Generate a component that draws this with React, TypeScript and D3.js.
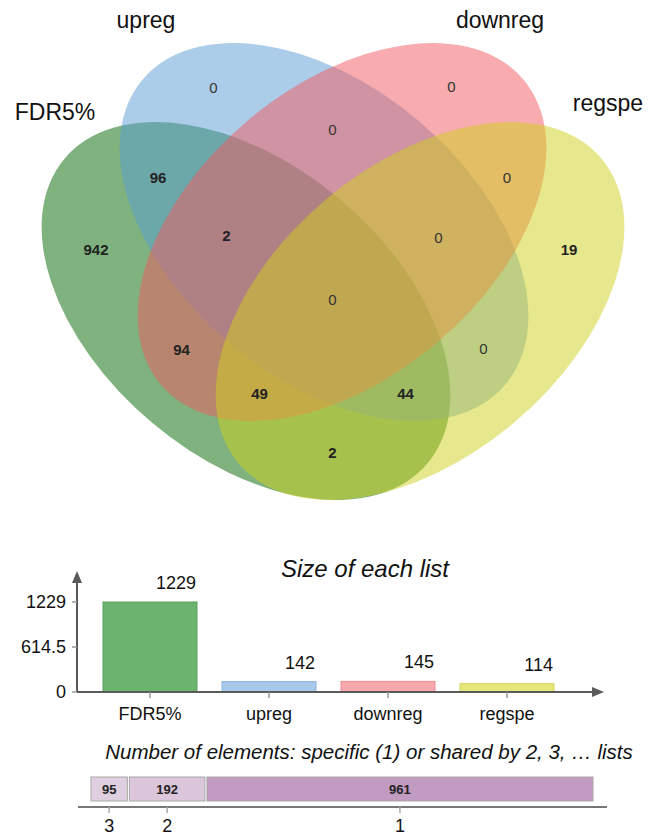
import React, { useMemo } from 'react';
import * as d3 from 'd3';

// ---------- data ----------
const setNames = ['FDR5%', 'upreg', 'downreg', 'regspe'];
const setColors = ['#006600', '#5a9bd4', '#f15a60', '#cfcf1b'];
const barColors = ['#6bb36e', '#a9c8ea', '#f7a8ad', '#e6e67a'];
const barStrokes = ['#5aa25d', '#8fb4de', '#ec8f96', '#d4d45e'];
// region membership (FDR5%, upreg, downreg, regspe) and counts
const regionKeys = ['1000', '0100', '0010', '0001', '1100', '0110', '0011', '1010', '0101', '1001', '1110', '0111', '1011', '1101', '1111'];
const regionCounts = [942, 0, 0, 19, 96, 0, 0, 94, 0, 2, 2, 0, 49, 44, 0];
const listSizes = [1229, 142, 145, 114];
const sizeTicks = [0, 614.5, 1229];
const sharedDegrees = [3, 2, 1];
const sharedCounts = [95, 192, 961];

// ---------- layout ----------
const W = 657;
const H = 836;
const FONT = "'Liberation Sans', Arial, sans-serif";
const ELL_A = 237;
const ELL_B = 146;
const ellipses = [
  { cx: 246, cy: 311, rot: 40 },
  { cx: 324, cy: 232, rot: 40 },
  { cx: 342, cy: 232, rot: -40 },
  { cx: 420, cy: 311, rot: -40 },
];

function inside(e: { cx: number; cy: number; rot: number }, x: number, y: number) {
  const t = (e.rot * Math.PI) / 180;
  const dx = x - e.cx;
  const dy = y - e.cy;
  const u = dx * Math.cos(t) + dy * Math.sin(t);
  const v = -dx * Math.sin(t) + dy * Math.cos(t);
  return (u * u) / (ELL_A * ELL_A) + (v * v) / (ELL_B * ELL_B) <= 1;
}

function computeLabelPositions() {
  const nx = W;
  const ny = 540;
  const code = new Int32Array(nx * ny);
  for (let j = 0; j < ny; j++) {
    for (let i = 0; i < nx; i++) {
      let c = 0;
      ellipses.forEach((e, k) => {
        if (inside(e, i + 0.5, j + 0.5)) c |= 1 << (3 - k);
      });
      code[j * nx + i] = c;
    }
  }
  const dist = new Float64Array(nx * ny);
  for (let j = 0; j < ny; j++) {
    for (let i = 0; i < nx; i++) {
      const idx = j * nx + i;
      const c = code[idx];
      let b = i === 0 || j === 0 || i === nx - 1 || j === ny - 1;
      if (!b) b = code[idx - 1] !== c || code[idx + 1] !== c || code[idx - nx] !== c || code[idx + nx] !== c;
      dist[idx] = b ? 0 : 1e9;
    }
  }
  const r2 = Math.SQRT2;
  for (let j = 1; j < ny - 1; j++) {
    for (let i = 1; i < nx - 1; i++) {
      const idx = j * nx + i;
      dist[idx] = Math.min(dist[idx], dist[idx - 1] + 1, dist[idx - nx] + 1, dist[idx - nx - 1] + r2, dist[idx - nx + 1] + r2);
    }
  }
  for (let j = ny - 2; j > 0; j--) {
    for (let i = nx - 2; i > 0; i--) {
      const idx = j * nx + i;
      dist[idx] = Math.min(dist[idx], dist[idx + 1] + 1, dist[idx + nx] + 1, dist[idx + nx + 1] + r2, dist[idx + nx - 1] + r2);
    }
  }
  const best: Record<number, { d: number; x: number; y: number }> = {};
  const sums: Record<number, { n: number; sx: number; sy: number }> = {};
  for (let j = 0; j < ny; j++) {
    for (let i = 0; i < nx; i++) {
      const idx = j * nx + i;
      const c = code[idx];
      if (!c) continue;
      if (!best[c] || dist[idx] > best[c].d) best[c] = { d: dist[idx], x: i, y: j };
      if (!sums[c]) sums[c] = { n: 0, sx: 0, sy: 0 };
      sums[c].n++;
      sums[c].sx += i;
      sums[c].sy += j;
    }
  }
  const at = (x: number, y: number) => code[Math.round(y) * nx + Math.round(x)];
  const dAt = (x: number, y: number) => dist[Math.round(y) * nx + Math.round(x)];
  const vMid = (x: number, y: number, c: number) => {
    let t = Math.round(y), b = Math.round(y);
    while (t > 0 && at(x, t - 1) === c) t--;
    while (b < ny - 1 && at(x, b + 1) === c) b++;
    return (t + b) / 2;
  };
  const hMid = (x: number, y: number, c: number) => {
    let l = Math.round(x), r = Math.round(x);
    while (l > 0 && at(l - 1, y) === c) l--;
    while (r < nx - 1 && at(r + 1, y) === c) r++;
    return (l + r) / 2;
  };
  return regionKeys.map((k) => {
    const c = parseInt(k, 2);
    const p = best[c];
    const s = sums[c];
    let x = s.sx / s.n;
    let y = s.sy / s.n;
    if (at(x, y) !== c || dAt(x, y) < 0.7 * p.d) {
      x = p.x;
      y = p.y;
    }
    y = vMid(x, y, c);
    x = hMid(x, y, c);
    y = vMid(x, y, c);
    return { x, y };
  });
}

export default function App() {
  const labelPos = useMemo(() => computeLabelPositions(), []);

  // size-of-each-list chart
  const xBand = d3.scaleBand<string>().domain(setNames).range([103, 554]).paddingInner(0.21).paddingOuter(0);
  const ySize = d3.scaleLinear().domain([0, 1229]).range([692, 602]);
  const axisX0 = 77;
  const axisY0 = 692;

  // shared chart
  const total = d3.sum(sharedCounts);
  const xShared = d3.scaleLinear().domain([0, total]).range([90, 594]);
  const cum = sharedCounts.map((_, i) => d3.sum(sharedCounts.slice(0, i)));
  const sharedFill = (deg: number) => (deg === 1 ? '#c19bc1' : deg === 2 ? '#dbc6db' : '#e0cfe0');

  return (
    <svg width={W} height={H} style={{ position: 'absolute', left: 0, top: 0, display: 'block', background: '#fff' }} fontFamily={FONT}>
      {/* Venn ellipses */}
      {ellipses.map((e, i) => (
        <ellipse
          key={i}
          cx={e.cx}
          cy={e.cy}
          rx={ELL_A}
          ry={ELL_B}
          transform={`rotate(${e.rot} ${e.cx} ${e.cy})`}
          fill={setColors[i]}
          fillOpacity={0.5}
        />
      ))}
      {/* set names */}
      <text x={55} y={120} fontSize={23} textAnchor="middle" fill="#111">{setNames[0]}</text>
      <text x={146} y={28} fontSize={23} textAnchor="middle" fill="#111">{setNames[1]}</text>
      <text x={500} y={28} fontSize={23} textAnchor="middle" fill="#111">{setNames[2]}</text>
      <text x={608} y={111} fontSize={23} textAnchor="middle" fill="#111">{setNames[3]}</text>
      {/* region counts */}
      {regionKeys.map((k, i) => (
        <text
          key={k}
          x={labelPos[i].x}
          y={labelPos[i].y}
          fontSize={15}
          fontWeight={regionCounts[i] === 0 ? 'normal' : 'bold'}
          textAnchor="middle"
          dominantBaseline="central"
          fill={regionCounts[i] === 0 ? '#333' : '#222'}
        >
          {regionCounts[i]}
        </text>
      ))}

      {/* Size of each list */}
      <text x={365} y={577} fontSize={24} fontStyle="italic" textAnchor="middle" fill="#111">Size of each list</text>
      {setNames.map((n, i) => (
        <rect
          key={n}
          x={xBand(n)!}
          y={ySize(listSizes[i])}
          width={xBand.bandwidth()}
          height={axisY0 - ySize(listSizes[i])}
          fill={barColors[i]}
          stroke={barStrokes[i]}
          strokeWidth={1}
        />
      ))}
      {setNames.map((n, i) => (
        <text key={n} x={xBand(n)! + xBand.bandwidth() - 1} y={ySize(listSizes[i]) - 13} fontSize={18} textAnchor="end" fill="#111">
          {listSizes[i]}
        </text>
      ))}
      {/* y axis */}
      <line x1={axisX0} x2={axisX0} y1={axisY0} y2={580} stroke="#5a5a5a" strokeWidth={2} />
      <path d={`M${axisX0},571 L${axisX0 - 5},583 L${axisX0 + 5},583 Z`} fill="#5a5a5a" />
      {sizeTicks.map((t) => (
        <g key={t}>
          <line x1={axisX0 - 5} x2={axisX0} y1={ySize(t)} y2={ySize(t)} stroke="#999" strokeWidth={1.5} />
          <text x={66} y={ySize(t)} fontSize={18} textAnchor="end" dominantBaseline="central" fill="#111">
            {t}
          </text>
        </g>
      ))}
      {/* x axis */}
      <line x1={axisX0} x2={594} y1={axisY0} y2={axisY0} stroke="#5a5a5a" strokeWidth={2} />
      <path d={`M604,${axisY0} L592,${axisY0 - 5} L592,${axisY0 + 5} Z`} fill="#5a5a5a" />
      {setNames.map((n) => (
        <g key={n}>
          <line x1={xBand(n)! + xBand.bandwidth() / 2} x2={xBand(n)! + xBand.bandwidth() / 2} y1={axisY0} y2={axisY0 + 6} stroke="#999" strokeWidth={1.5} />
          <text x={xBand(n)! + xBand.bandwidth() / 2} y={720} fontSize={18} textAnchor="middle" fill="#111">
            {n}
          </text>
        </g>
      ))}

      {/* shared elements */}
      <text x={369} y={759} fontSize={20.5} fontStyle="italic" textAnchor="middle" fill="#111">
        Number of elements: specific (1) or shared by 2, 3, … lists
      </text>
      {sharedCounts.map((v, i) => (
        <g key={i}>
          <rect
            x={xShared(cum[i]) + 1}
            y={777}
            width={xShared(cum[i] + v) - xShared(cum[i]) - 2}
            height={24}
            fill={sharedFill(sharedDegrees[i])}
            stroke="#a8a8a8"
            strokeWidth={1}
          />
          <text x={(xShared(cum[i]) + xShared(cum[i] + v)) / 2} y={789} fontSize={13} fontWeight="bold" textAnchor="middle" dominantBaseline="central" fill="#222">
            {v}
          </text>
        </g>
      ))}
      <line x1={78} x2={607} y1={807} y2={807} stroke="#777" strokeWidth={2} />
      {sharedCounts.map((v, i) => {
        const cx = (xShared(cum[i]) + xShared(cum[i] + v)) / 2;
        return (
          <g key={i}>
            <line x1={cx} x2={cx} y1={807} y2={813} stroke="#aaa" strokeWidth={1.5} />
            <text x={cx} y={832} fontSize={18} textAnchor="middle" fill="#111">
              {sharedDegrees[i]}
            </text>
          </g>
        );
      })}
    </svg>
  );
}
